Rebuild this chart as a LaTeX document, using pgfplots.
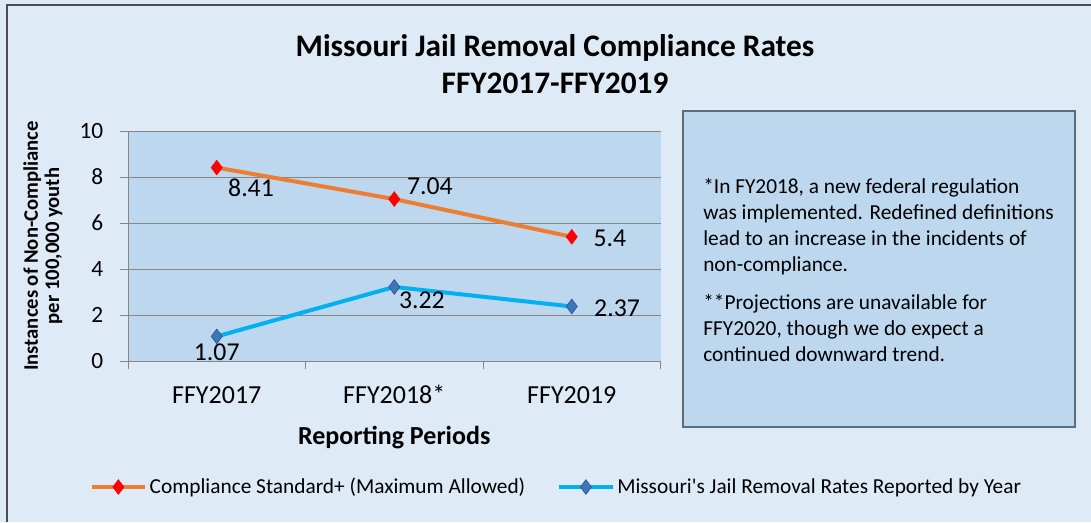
\documentclass[border=0pt]{standalone}
\usepackage{pgfplots}
\pgfplotsset{compat=1.18}
\usepackage{fontspec}
\setmainfont{Carlito}
\definecolor{outerbg}{HTML}{DEEBF7}
\definecolor{plotbg}{HTML}{BDD7EE}
\definecolor{gridgray}{HTML}{868686}
\definecolor{orangeline}{HTML}{ED7D31}
\definecolor{blueline}{HTML}{00B0F0}
\definecolor{bluemark}{HTML}{3A78B8}
\definecolor{bluemarkedge}{HTML}{2F5597}
\definecolor{boxedge}{HTML}{5B6B80}
\begin{document}
\begin{tikzpicture}
\useasboundingbox (0pt,0pt) rectangle (818.25pt,391.5pt);
\fill[outerbg] (0pt,0pt) rectangle (818.25pt,391.5pt);
\draw[line width=1.5pt, color=black!70] (818.25pt,387.75pt) -- (5.25pt,387.75pt) -- (5.25pt,0pt);
\node[anchor=base, font=\bfseries\fontsize{23.5}{27}\selectfont] at (416.25pt,348.75pt) {Missouri Jail Removal Compliance Rates};
\node[anchor=base, font=\bfseries\fontsize{23.5}{27}\selectfont] at (416.25pt,321pt) {FFY2017-FFY2019};
\begin{axis}[
  at={(96pt,120.75pt)}, anchor=south west,
  scale only axis, width=399.4pt, height=172.5pt,
  xmin=-0.5, xmax=2.5, ymin=0, ymax=10,
  axis lines*=left,
  axis line style={gridgray, line width=0.75pt},
  axis background/.style={fill=plotbg},
  ytick={0,2,4,6,8,10},
  ymajorgrids, grid style={gridgray, line width=0.75pt},
  tick align=outside, major tick length=6pt,
  tick style={gridgray, line width=0.75pt},
  xtick={-0.5,0.5,1.5,2.5}, xticklabels={},
  extra x ticks={0,1,2},
  extra x tick labels={FFY2017,FFY2018*,FFY2019},
  extra x tick style={major tick length=0pt, grid=none},
  /pgf/number format/assume math mode=true,
  xticklabel style={font=\fontsize{19.5}{23}\selectfont, text height=0.65em, text depth=0.1em, yshift=-22pt},
  yticklabel style={font=\fontsize{17.5}{20}\selectfont, xshift=-9pt},
  xlabel={Reporting Periods},
  ylabel={Instances of Non-Compliance\\per 100,000 youth},
  every axis x label/.style={at={(axis description cs:0.5,-0.335)}, anchor=center, font=\bfseries\fontsize{19.5}{23}\selectfont},
  every axis y label/.style={at={(axis description cs:-0.16,0.5)}, anchor=center, rotate=90, align=center, font=\bfseries\fontsize{15.5}{16}\selectfont},
  legend columns=2,
  legend style={at={(0.805,-0.548)}, anchor=center, draw=none, fill=none,
    font=\fontsize{16}{18}\selectfont,
    /tikz/every even column/.append style={column sep=22pt}},
  legend image code/.code={\draw[#1, mark repeat=2, mark phase=2] plot coordinates {(0pt,0pt) (20pt,0pt) (40pt,0pt)};},
]
\addplot[orangeline, line width=3pt, mark=diamond*, mark size=5.5pt,
  mark options={fill=red, draw=red, line width=0.5pt}]
  coordinates {(0,8.41) (1,7.04) (2,5.4)};
\addlegendentry{Compliance Standard+ (Maximum Allowed)}
\addplot[blueline, line width=3pt, mark=diamond*, mark size=5.5pt,
  mark options={fill=bluemark, draw=bluemarkedge, line width=0.5pt}]
  coordinates {(0,1.07) (1,3.22) (2,2.37)};
\addlegendentry{Missouri\textquotesingle s Jail Removal Rates Reported by Year}
\begin{scope}[font=\fontsize{19.3}{23}\selectfont]
\node at (axis cs:0.193,7.52) {8.41};
\node at (axis cs:1.201,7.61) {7.04};
\node at (axis cs:2.215,5.35) {5.4};
\node at (axis cs:1.156,2.65) {3.22};
\node at (axis cs:2.255,2.30) {2.37};
\node at (axis cs:0.0,0.39) {1.07};
\end{scope}
\end{axis}
\draw[boxedge, line width=1.1pt, fill=plotbg] (512.25pt,308.25pt) rectangle (806.25pt,71.25pt);
\node[anchor=north west, align=left, inner sep=0pt, font=\fontsize{16}{19.5}\selectfont] at (527.25pt,258pt) {*In FY2018, a new federal regulation\\was implemented. Redefined definitions\\lead to an increase in the incidents of\\non-compliance.\\[9.3pt]**Projections are unavailable for\\FFY2020, though we do expect a\\continued downward trend.};
\end{tikzpicture}
\end{document}
